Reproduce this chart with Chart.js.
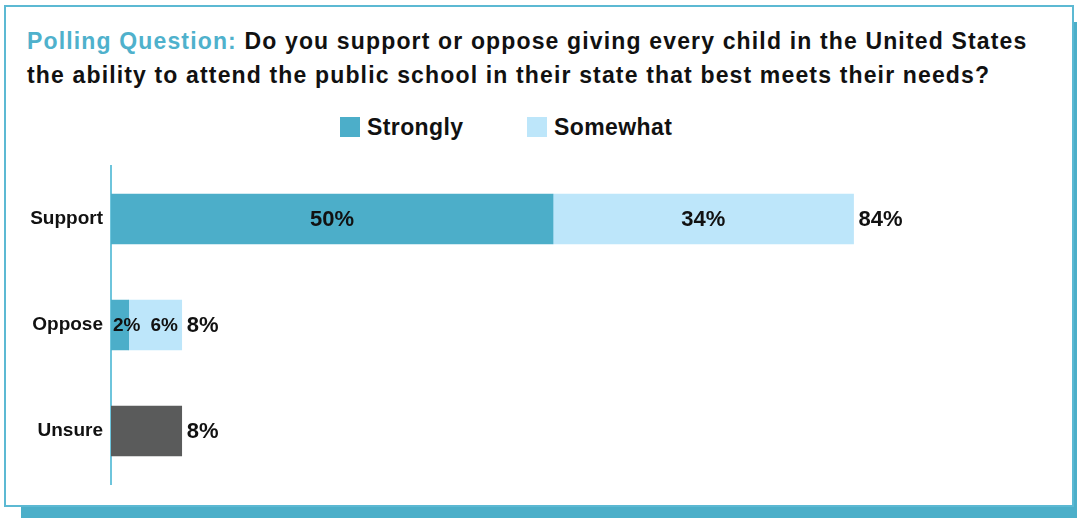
<!DOCTYPE html>
<html>
<head>
<meta charset="utf-8">
<script src="https://cdn.jsdelivr.net/npm/chart.js@4.4.1/dist/chart.umd.min.js"></script>
<style>
  body { margin: 0; background: #fff; width: 1077px; height: 518px; overflow: hidden; position: relative;
         font-family: 'Liberation Sans', Arial, Helvetica, sans-serif; }
  .card { position: absolute; left: 4px; top: 5px; width: 1066px; height: 498px;
          border: 2px solid #5cb9d3; background: #fff; box-shadow: 17px 17px 0 #4cafc9; }
  .titulo { position: absolute; left: 27px; top: 24px; font-size: 23px; font-weight: bold;
            line-height: 34px; color: #111; white-space: nowrap; letter-spacing: 1.15px; }
  .titulo span { color: #4fb1cc; }
  .legenda { position: absolute; top: 113px; font-size: 23px; font-weight: bold; color: #111;
             line-height: 28px; letter-spacing: 0.4px; }
  .legenda i { position: absolute; top: 4px; width: 20px; height: 20px; }
  canvas { position: absolute; left: 0; top: 0; }
</style>
</head>
<body>
<div class="card"></div>
<div class="titulo"><span>Polling Question:</span> Do you support or oppose giving every child in the United States<br>the ability to attend the public school in their state that best meets their needs?</div>
<div class="legenda" style="left:340px"><i style="left:0;background:#4caec9"></i><b style="margin-left:27px">Strongly</b></div>
<div class="legenda" style="left:527px"><i style="left:0;background:#bde6fa"></i><b style="margin-left:27px">Somewhat</b></div>
<canvas id="GraficoBarra" width="1077" height="518"></canvas>

<script>
// dados
const categorias = ['Support', 'Oppose', 'Unsure'];
const valoresStrongly = [50, 2, null];
const valoresSomewhat = [34, 6, null];
const valoresUnsure = [null, null, 8];

const fonte = "'Liberation Sans', Arial, Helvetica, sans-serif";

// rotulos dentro das barras e total no fim
const rotulosPlugin = {
    id: 'rotulos',
    afterDatasetsDraw(chart) {
        const ctx = chart.ctx;
        ctx.save();
        ctx.fillStyle = '#111';
        ctx.textBaseline = 'middle';
        ctx.textAlign = 'left';

        categorias.forEach((cat, i) => {
            let fimDireita = -Infinity;
            let total = 0;
            let ultimoX = null, yBarra = null;
            chart.data.datasets.forEach((ds, d) => {
                const v = ds.data[i];
                if (v == null) return;
                const el = chart.getDatasetMeta(d).data[i];
                total += v;
                ultimoX = Math.max(ultimoX ?? -Infinity, el.x);
                yBarra = el.y;
                if (!ds.rotuloDentro) return;
                const pequeno = (el.x - el.base) < 80;
                ctx.font = `bold ${pequeno ? 19 : 22}px ${fonte}`;
                const texto = v + '%';
                const w = ctx.measureText(texto).width;
                let esq = (el.x + el.base) / 2 - w / 2;
                esq = Math.max(esq, el.base + 2, fimDireita + 10);
                ctx.fillText(texto, esq, el.y + 1);
                fimDireita = esq + w;
            });
            if (ultimoX != null) {
                ctx.font = `bold 22px ${fonte}`;
                ctx.fillText(total + '%', ultimoX + 5, yBarra + 1);
            }
        });
        ctx.restore();
    }
};

const ctx = document.getElementById('GraficoBarra').getContext('2d');
new Chart(ctx, {
    type: 'bar',
    data: {
        labels: categorias,
        datasets: [
            { label: 'Strongly', data: valoresStrongly, backgroundColor: '#4caec9', rotuloDentro: true },
            { label: 'Somewhat', data: valoresSomewhat, backgroundColor: '#bde6fa', rotuloDentro: true },
            { label: 'Unsure', data: valoresUnsure, backgroundColor: '#5a5b5b', rotuloDentro: false }
        ]
    },
    options: {
        indexAxis: 'y',
        responsive: false,
        animation: false,
        barThickness: 50,
        layout: { padding: { left: 0, right: 82, top: 166, bottom: 34 } },
        plugins: {
            legend: { display: false },
            tooltip: { enabled: false }
        },
        scales: {
            x: {
                stacked: true,
                min: 0,
                max: 100,
                display: false
            },
            y: {
                stacked: true,
                grid: { display: false, drawTicks: false },
                border: { display: true, color: '#6ec5dc', width: 2 },
                ticks: {
                    color: '#111',
                    padding: 8,
                    font: { family: fonte, size: 19, weight: 'bold' }
                },
                afterFit(scale) { scale.width = 111; }
            }
        }
    },
    plugins: [rotulosPlugin]
});
</script>
</body>
</html>
